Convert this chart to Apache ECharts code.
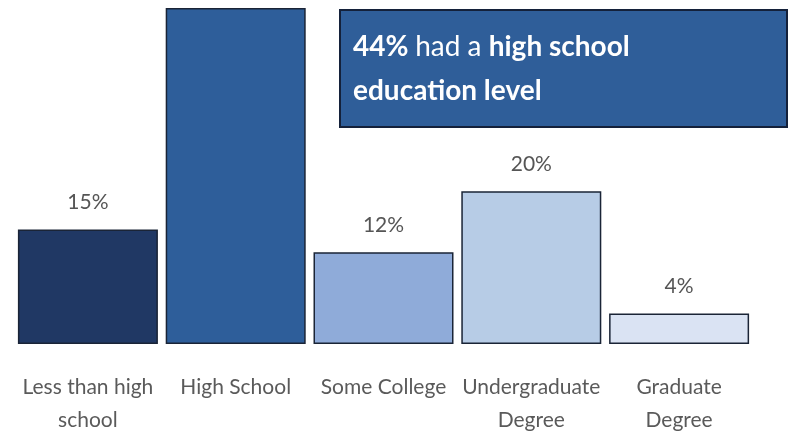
<!DOCTYPE html>
<html>
<head>
<meta charset="utf-8">
<style>
  html, body { margin: 0; padding: 0; background: #ffffff; }
  #chart { width: 792px; height: 437px; }
</style>
<script src="https://cdn.jsdelivr.net/npm/echarts@6/dist/echarts.min.js"></script>
</head>
<body>
<div id="chart"></div>
<script>
// Education level shares (percent of respondents)
const categories = [
  'Less than high\nschool',
  'High School',
  'Some College',
  'Undergraduate\nDegree',
  'Graduate\nDegree'
];
const shares = [15, 44, 12, 20, 4];
const barColors = ['#203864', '#2e5e9a', '#8fabd9', '#b7cce6', '#dae3f3'];
// The highlighted category gets a callout box instead of a value label
const highlightIndex = 1;

const chart = echarts.init(document.getElementById('chart'));

const fontFamily = 'Lato, "Open Sans", sans-serif';

chart.setOption({
  animation: false,
  backgroundColor: '#ffffff',
  grid: { left: 14, right: 39, top: 8, bottom: 91 },
  xAxis: {
    type: 'category',
    data: categories,
    axisLine: { show: false },
    axisTick: { show: false },
    axisLabel: {
      interval: 0,
      margin: 27,
      color: '#5a5a5a',
      fontFamily: fontFamily,
      fontSize: 21,
      lineHeight: 33
    }
  },
  yAxis: {
    type: 'value',
    min: 0,
    max: 44,
    show: false,
    splitLine: { show: false }
  },
  series: [{
    type: 'bar',
    barWidth: 140,
    data: shares.map((v, i) => ({
      value: v,
      itemStyle: { color: barColors[i] },
      label: { show: i !== highlightIndex }
    })),
    itemStyle: { borderColor: '#1a2436', borderWidth: 1.5 },
    label: {
      position: 'top',
      distance: 17,
      formatter: '{c}%',
      color: '#555555',
      fontFamily: fontFamily,
      fontSize: 21
    }
  }],
  graphic: [{
    type: 'group',
    left: 339,
    top: 9,
    children: [{
      type: 'rect',
      shape: { x: 0, y: 0, width: 447, height: 117 },
      style: { fill: '#2f5e99', stroke: '#14213a', lineWidth: 2 }
    }, {
      type: 'text',
      x: 13,
      y: 15,
      style: {
        text: '{b|44% }{n|had a }{b|high school}\n{b|education level}',
        fill: '#ffffff',
        rich: {
          b: { fontFamily: fontFamily, fontWeight: 'bold', fontSize: 28, fill: '#ffffff', lineHeight: 44 },
          n: { fontFamily: fontFamily, fontWeight: 'normal', fontSize: 28, fill: '#ffffff', lineHeight: 44 }
        }
      }
    }]
  }]
});
</script>
</body>
</html>
